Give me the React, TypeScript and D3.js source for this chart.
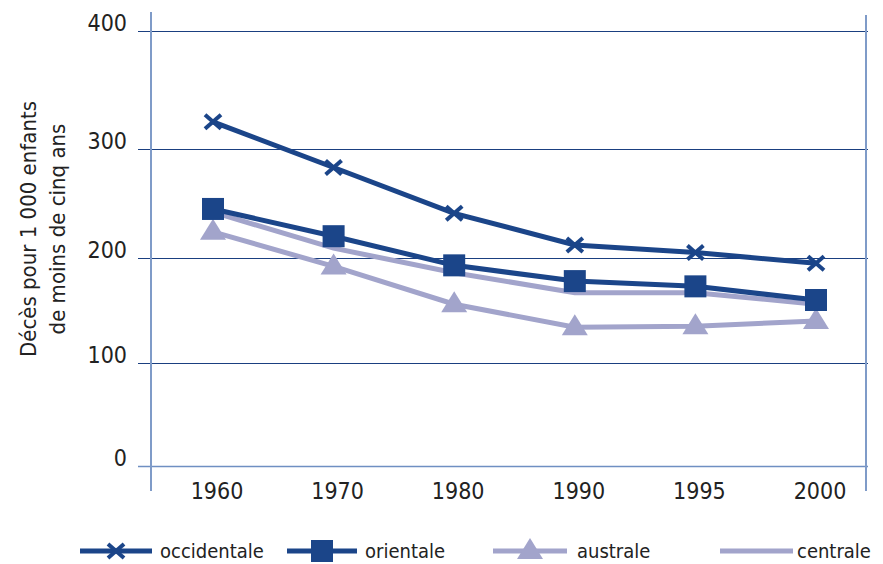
import React from "react";
import * as d3 from "d3";

const years = ["1960", "1970", "1980", "1990", "1995", "2000"];
const yTicks = [0, 100, 200, 300, 400];
const occidentale = [323, 283, 241, 212, 205, 195];
const orientale = [245, 220, 193, 178, 173, 160];
const australe = [224, 192, 156, 134, 135, 140];
const centrale = [242, 209, 186, 167, 167, 156];
const yTitle = ["Décès pour 1 000 enfants", "de moins de cinq ans"];
const legendLabels = ["occidentale", "orientale", "australe", "centrale"];

const DARK = "#1b4589";
const LIGHT = "#a2a4cb";
const FONT = "'DejaVu Sans Condensed', 'Liberation Sans', sans-serif";

export default function App() {
  const W = 883, H = 564;
  const x = d3.scalePoint<string>().domain(years).range([213, 816]);
  const y = d3.scaleLinear().domain(yTicks).range([466, 363, 258, 149, 31]);
  const line = d3
    .line<number>()
    .x((_, i) => x(years[i]) as number)
    .y((v) => y(v));

  const xMark = (cx: number, cy: number, k: string) => (
    <g key={k} stroke={DARK} strokeWidth={4}>
      <line x1={cx - 8} y1={cy - 7} x2={cx + 8} y2={cy + 7} />
      <line x1={cx - 8} y1={cy + 7} x2={cx + 8} y2={cy - 7} />
    </g>
  );
  const sqMark = (cx: number, cy: number, k: string) => (
    <rect key={k} x={cx - 11} y={cy - 11} width={22} height={22} fill={DARK} />
  );
  const triMark = (cx: number, cy: number, k: string) => (
    <path
      key={k}
      d={`M${cx},${cy - 13} L${cx + 13},${cy + 8} L${cx - 13},${cy + 8} Z`}
      fill={LIGHT}
    />
  );

  const legendItems = [
    { label: legendLabels[0], x0: 80, x1: 152, tx: 160, color: DARK, mark: xMark },
    { label: legendLabels[1], x0: 287, x1: 357, tx: 365, color: DARK, mark: sqMark },
    { label: legendLabels[2], x0: 493, x1: 567, tx: 577, color: LIGHT, mark: triMark },
    { label: legendLabels[3], x0: 720, x1: 793, tx: 797, color: LIGHT, mark: null },
  ];

  const crisp = (v: number) => Math.round(v) + 0.5;

  return (
    <svg
      width={W}
      height={H}
      style={{ position: "absolute", left: 0, top: 0, background: "#fff" }}
      fontFamily={FONT}
    >
      {/* gridlines */}
      {yTicks.map((t) => (
        <line
          key={t}
          x1={138}
          x2={868}
          y1={crisp(y(t))}
          y2={crisp(y(t))}
          stroke={t === 0 ? "#6f8fc2" : "#1a3f80"}
          strokeWidth={t === 0 ? 1.5 : 1.2}
        />
      ))}
      {/* vertical axis lines */}
      <line x1={151} x2={151} y1={12} y2={491} stroke="#7f9bc8" strokeWidth={2} />
      <line x1={866} x2={866} y1={15} y2={491} stroke="#7f9bc8" strokeWidth={2} />
      {/* y tick labels */}
      {yTicks.map((t) => (
        <text key={t} x={127} y={y(t)} textAnchor="end" fontSize={23} fill="#222">
          {t}
        </text>
      ))}
      {/* x tick labels */}
      {years.map((yr) => (
        <text
          key={yr}
          x={(x(yr) as number) + 4}
          y={499}
          textAnchor="middle"
          fontSize={23}
          fill="#222"
        >
          {yr}
        </text>
      ))}
      {/* y title */}
      <g transform="translate(0,229) rotate(-90)" fill="#222" fontSize={22}>
        <text x={0} y={36} textAnchor="middle">{yTitle[0]}</text>
        <text x={0} y={65} textAnchor="middle">{yTitle[1]}</text>
      </g>
      {/* series */}
      <path d={line(centrale) || ""} fill="none" stroke={LIGHT} strokeWidth={5} />
      <path d={line(australe) || ""} fill="none" stroke={LIGHT} strokeWidth={5} />
      {australe.map((v, i) => triMark(x(years[i]) as number, y(v), "a" + i))}
      <path d={line(orientale) || ""} fill="none" stroke={DARK} strokeWidth={5} />
      {orientale.map((v, i) => sqMark(x(years[i]) as number, y(v), "o" + i))}
      <path d={line(occidentale) || ""} fill="none" stroke={DARK} strokeWidth={5} />
      {occidentale.map((v, i) => xMark(x(years[i]) as number, y(v), "w" + i))}
      {/* legend */}
      {legendItems.map((it) => (
        <g key={it.label}>
          <line x1={it.x0} x2={it.x1} y1={551} y2={551} stroke={it.color} strokeWidth={5} />
          {it.mark ? it.mark((it.x0 + it.x1) / 2, 551, "m" + it.label) : null}
          <text x={it.tx} y={558} fontSize={20} fill="#222">
            {it.label}
          </text>
        </g>
      ))}
    </svg>
  );
}
